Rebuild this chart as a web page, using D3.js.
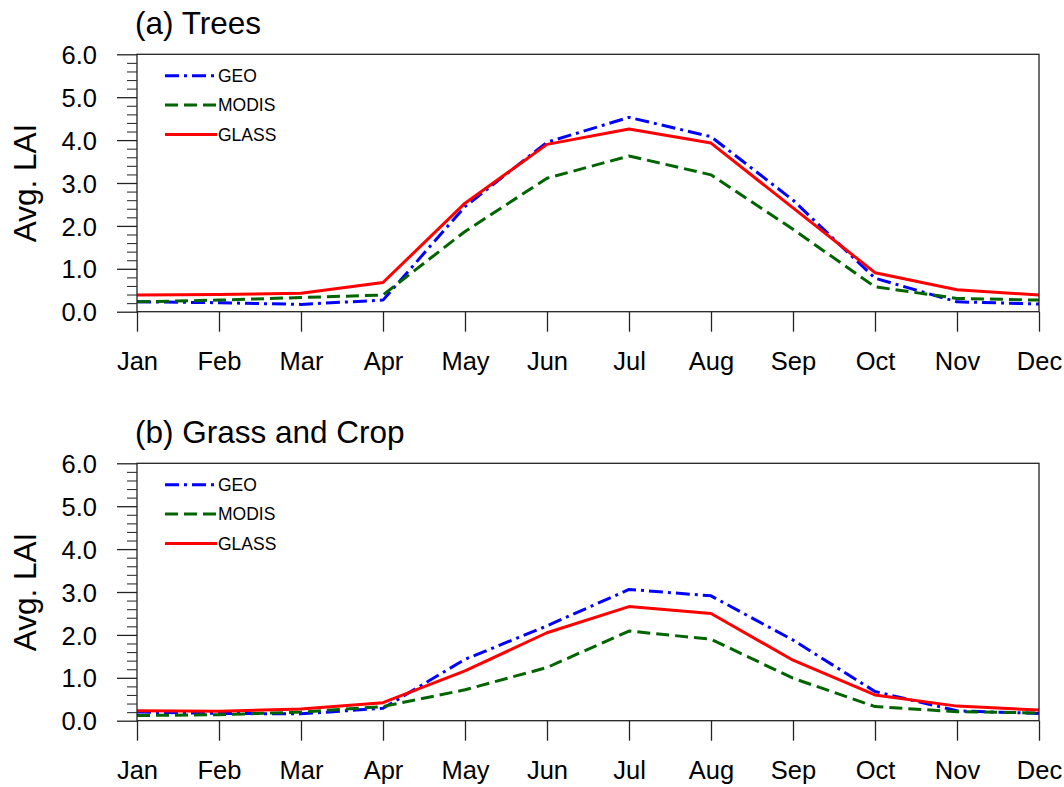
<!DOCTYPE html>
<html>
<head>
<meta charset="utf-8">
<script src="https://cdn.jsdelivr.net/npm/d3@7/dist/d3.min.js"></script>
<style>
  html, body { margin: 0; padding: 0; background: #fff; }
  svg { display: block; }
  text { font-family: "Liberation Sans", Arial, Helvetica, sans-serif; fill: #000; }
</style>
</head>
<body>
<svg id="chart" width="1064" height="787"></svg>
<script>
// ---- data ----
const months = ["Jan","Feb","Mar","Apr","May","Jun","Jul","Aug","Sep","Oct","Nov","Dec"];
const seriesNames = ["GEO","MODIS","GLASS"];
const yTicks = [0, 1, 2, 3, 4, 5, 6];

const treesGEO   = [0.23,0.21,0.17,0.27,2.45,3.95,4.53,4.08,2.60,0.78,0.23,0.18];
const treesMODIS = [0.23,0.27,0.33,0.39,1.87,3.11,3.63,3.19,1.92,0.58,0.31,0.27];
const treesGLASS = [0.39,0.40,0.43,0.68,2.53,3.90,4.26,3.93,2.42,0.91,0.51,0.39];

const grassGEO   = [0.20,0.17,0.16,0.29,1.43,2.21,3.06,2.91,1.88,0.68,0.23,0.17];
const grassMODIS = [0.12,0.14,0.20,0.33,0.72,1.24,2.09,1.90,0.99,0.33,0.21,0.18];
const grassGLASS = [0.23,0.22,0.27,0.42,1.16,2.05,2.66,2.50,1.41,0.60,0.34,0.25];

const panelTitles = ["(a) Trees", "(b) Grass and Crop"];
const yTitle = "Avg. LAI";

// ---- styles ----
const styles = {
  GEO:   { color: "#0000ff", dash: "14,5,3,5" },
  MODIS: { color: "#006400", dash: "13,6" },
  GLASS: { color: "#ff0000", dash: null }
};

const svg = d3.select("#chart");
const left = 137, right = 1039, ph = 257.4;
const panelTops = [54.3, 463.3];
const panels = [
  { GEO: treesGEO, MODIS: treesMODIS, GLASS: treesGLASS },
  { GEO: grassGEO, MODIS: grassMODIS, GLASS: grassGLASS }
];

const x = d3.scalePoint().domain(months).range([left, right]);

panels.forEach((pd, pi) => {
  const top = panelTops[pi];
  const y = d3.scaleLinear().domain([0, 6]).range([top + ph, top]);
  const g = svg.append("g");

  // title
  g.append("text")
    .attr("x", 135).attr("y", top - 20)
    .attr("font-size", 31.5)
    .text(panelTitles[pi]);

  // y axis title
  g.append("text")
    .attr("transform", `translate(36,${top + ph / 2}) rotate(-90)`)
    .attr("text-anchor", "middle")
    .attr("font-size", 31.5)
    .text(yTitle);

  // lines
  const line = d3.line().x((d, i) => x(months[i])).y(d => y(d));
  seriesNames.forEach(name => {
    const p = g.append("path")
      .datum(pd[name])
      .attr("d", line)
      .attr("fill", "none")
      .attr("stroke", styles[name].color)
      .attr("stroke-width", 3)
      .attr("stroke-linejoin", "round");
    if (styles[name].dash) p.attr("stroke-dasharray", styles[name].dash);
  });

  // frame
  g.append("rect")
    .attr("x", left).attr("y", top)
    .attr("width", right - left).attr("height", ph)
    .attr("fill", "none").attr("stroke", "#222").attr("stroke-width", 1.3);

  // minor y ticks
  const minor = d3.range(0, 6.0001, 0.2).filter(v => Math.abs(v - Math.round(v)) > 1e-6);
  const ym = g.append("g").attr("transform", `translate(${left},0)`)
    .call(d3.axisLeft(y).tickValues(minor).tickSize(10).tickFormat(""));
  ym.select(".domain").remove();
  ym.selectAll("line").attr("stroke", "#333").attr("stroke-width", 1.1);

  // major y ticks
  const ya = g.append("g").attr("transform", `translate(${left},0)`)
    .call(d3.axisLeft(y).tickValues(yTicks).tickSize(20).tickPadding(20).tickFormat(d3.format(".1f")));
  ya.select(".domain").remove();
  ya.selectAll("line").attr("stroke", "#222").attr("stroke-width", 1.3);
  ya.selectAll("text").attr("font-size", 25.5).attr("fill", "#000")
    .attr("font-family", '"Liberation Sans", Arial, Helvetica, sans-serif')
    .attr("dy", "0.36em");

  // x axis
  const xa = g.append("g").attr("transform", `translate(0,${top + ph})`)
    .call(d3.axisBottom(x).tickSize(20).tickPadding(20));
  xa.select(".domain").remove();
  xa.selectAll("line").attr("stroke", "#222").attr("stroke-width", 1.3);
  xa.selectAll("text").attr("font-size", 25.5).attr("fill", "#000")
    .attr("font-family", '"Liberation Sans", Arial, Helvetica, sans-serif')
    .attr("dy", "0.71em");

  // legend
  seriesNames.forEach((name, i) => {
    const ly = top + 21.5 + i * 29.3;
    const l = g.append("line")
      .attr("x1", 165).attr("x2", 217).attr("y1", ly).attr("y2", ly)
      .attr("stroke", styles[name].color).attr("stroke-width", 3);
    if (styles[name].dash) l.attr("stroke-dasharray", styles[name].dash);
    g.append("text")
      .attr("x", 218).attr("y", ly).attr("dy", "0.36em")
      .attr("font-size", 17.5)
      .text(name);
  });
});
</script>
</body>
</html>
